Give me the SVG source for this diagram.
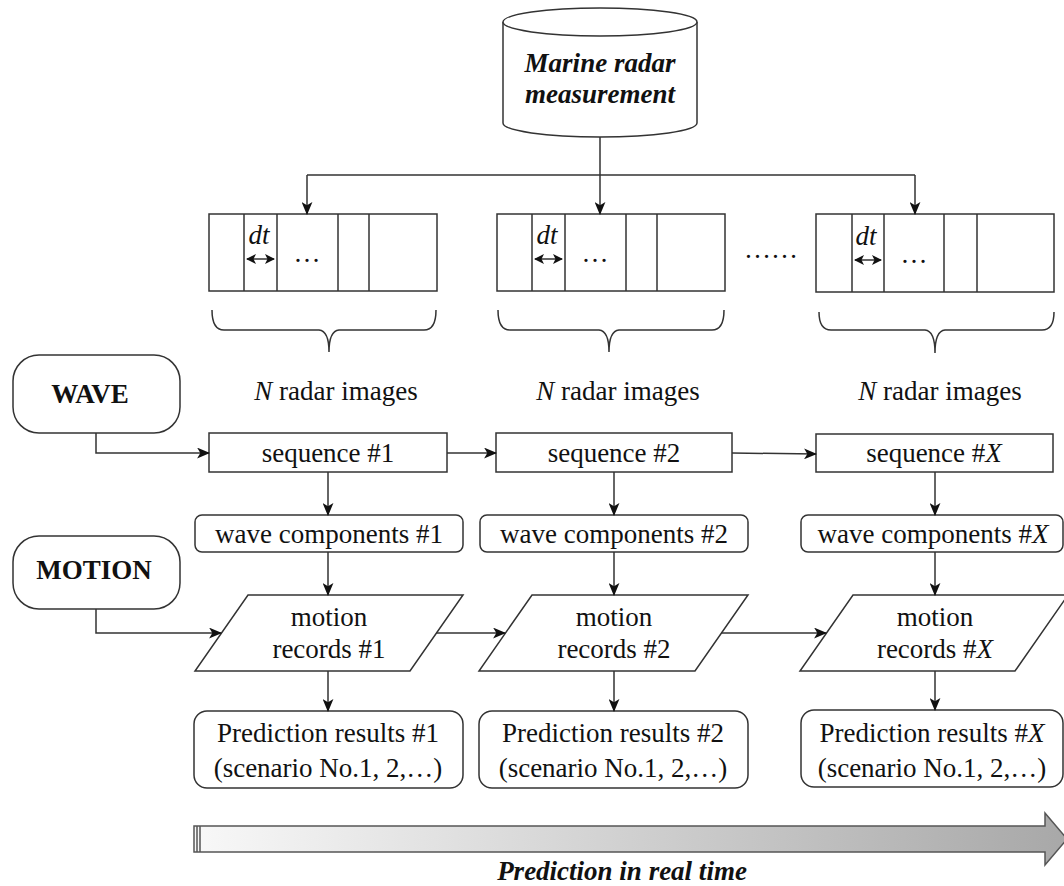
<svg xmlns="http://www.w3.org/2000/svg" width="1064" height="886" viewBox="0 0 1064 886">
<style>
.s{fill:#fff;stroke:#333;stroke-width:1.5}
.c{fill:none;stroke:#333;stroke-width:1.5}
.t{font-family:"Liberation Serif","Times New Roman",serif;font-size:27px;fill:#111;text-anchor:middle}
.b{font-weight:bold}
.i{font-style:italic}
</style>
<defs>
<marker id="ah" viewBox="0 0 12 10" refX="11" refY="5" markerWidth="13" markerHeight="11" markerUnits="userSpaceOnUse" orient="auto">
<path d="M0,0 L12,5 L0,10 L3,5 z" fill="#111"/>
</marker>
<marker id="sa" viewBox="0 0 10 10" refX="9" refY="5" markerWidth="10" markerHeight="10" markerUnits="userSpaceOnUse" orient="auto-start-reverse">
<path d="M0,0 L10,5 L0,10 L2.5,5 z" fill="#111"/>
</marker>
<linearGradient id="g" x1="0" x2="1" y1="0" y2="0">
<stop offset="0" stop-color="#f8f8f8"/>
<stop offset="1" stop-color="#a8a8a8"/>
</linearGradient>
</defs>
<rect width="1064" height="886" fill="#fff"/>

<g id="radar">
<path class="s" d="M503,22 L503,123 A97,14 0 0 0 697,123 L697,22"/>
<ellipse class="s" cx="600" cy="22" rx="97" ry="14"/>
<text class="t b i" x="600" y="72" font-size="29">Marine radar</text>
<text class="t b i" x="600" y="103" font-size="29">measurement</text>
</g>

<g id="strip1">
<rect class="s" x="209" y="214" width="228" height="77"/>
<path class="c" d="M244,214V291M277,214V291M338,214V291M369,214V291"/>
<text class="t i" x="259" y="244" font-size="25">dt</text>
<line class="c" x1="247" y1="259" x2="274" y2="259" marker-start="url(#sa)" marker-end="url(#sa)"/>
<text class="t" x="307" y="262" font-size="20">…</text>
<path class="c" d="M212,310 Q212,330 224,330 L319,330 Q329,331 329,352 Q329,331 339,330 L424,330 Q436,330 436,310"/>
<text class="t" x="336" y="400"><tspan class="i">N</tspan> radar images</text>
</g>

<g id="strip2">
<rect class="s" x="497" y="214" width="228" height="77"/>
<path class="c" d="M532,214V291M565,214V291M626,214V291M657,214V291"/>
<text class="t i" x="547" y="244" font-size="25">dt</text>
<line class="c" x1="535" y1="259" x2="562" y2="259" marker-start="url(#sa)" marker-end="url(#sa)"/>
<text class="t" x="595" y="262" font-size="20">…</text>
<path class="c" d="M498,310 Q498,330 510,330 L599,330 Q609,331 609,352 Q609,331 619,330 L712,330 Q724,330 724,310"/>
<text class="t" x="618" y="400"><tspan class="i">N</tspan> radar images</text>
</g>

<text class="t" x="771" y="258" font-size="20">……</text>

<g id="strip3">
<rect class="s" x="816" y="214" width="238" height="78"/>
<path class="c" d="M852,214V292M884,214V292M944,214V292M977,214V292"/>
<text class="t i" x="866" y="245" font-size="25">dt</text>
<line class="c" x1="855" y1="260" x2="881" y2="260" marker-start="url(#sa)" marker-end="url(#sa)"/>
<text class="t" x="914" y="263" font-size="20">…</text>
<path class="c" d="M819,312 Q819,330 831,330 L925,330 Q935,331 935,353 Q935,331 945,330 L1042,330 Q1054,330 1054,312"/>
<text class="t" x="940" y="400"><tspan class="i">N</tspan> radar images</text>
</g>

<g id="wave">
<rect class="s" x="13" y="355" width="167" height="78" rx="26"/>
<text class="t b" x="90" y="403" font-size="28">WAVE</text>
</g>
<g id="motion">
<rect class="s" x="13" y="536" width="167" height="73" rx="26"/>
<text class="t b" x="94" y="579">MOTION</text>
</g>

<g id="seq1"><rect class="s" x="209" y="433" width="238" height="39"/><text class="t" x="328" y="462">sequence #1</text></g>
<g id="seq2"><rect class="s" x="496" y="433" width="236" height="39"/><text class="t" x="614" y="462">sequence #2</text></g>
<g id="seqX"><rect class="s" x="816" y="434" width="237" height="38"/><text class="t" x="934" y="462">sequence #<tspan class="i">X</tspan></text></g>

<g id="wc1"><rect class="s" x="195" y="515" width="268" height="37" rx="7"/><text class="t" x="329" y="543">wave components #1</text></g>
<g id="wc2"><rect class="s" x="480" y="515" width="268" height="37" rx="7"/><text class="t" x="614" y="543">wave components #2</text></g>
<g id="wcX"><rect class="s" x="801" y="515" width="262" height="37" rx="7"/><text class="t" x="933" y="543">wave components #<tspan class="i">X</tspan></text></g>

<g id="mr1"><path class="s" d="M248,595 L463,595 L410,671 L195,671 z"/><text class="t" x="329" y="626">motion</text><text class="t" x="329" y="658">records #1</text></g>
<g id="mr2"><path class="s" d="M532,595 L748,595 L695,671 L479,671 z"/><text class="t" x="614" y="626">motion</text><text class="t" x="614" y="658">records #2</text></g>
<g id="mrX"><path class="s" d="M853,595 L1068,595 L1015,671 L800,671 z"/><text class="t" x="935" y="626">motion</text><text class="t" x="935" y="658">records #<tspan class="i">X</tspan></text></g>

<g id="pr1"><rect class="s" x="194" y="711" width="269" height="77" rx="13"/><text class="t" x="328" y="742">Prediction results #1</text><text class="t" x="328" y="777">(scenario No.1, 2,…)</text></g>
<g id="pr2"><rect class="s" x="479" y="711" width="269" height="77" rx="13"/><text class="t" x="613" y="742">Prediction results #2</text><text class="t" x="613" y="777">(scenario No.1, 2,…)</text></g>
<g id="prX"><rect class="s" x="801" y="710" width="262" height="77" rx="13"/><text class="t" x="932" y="742">Prediction results #<tspan class="i">X</tspan></text><text class="t" x="932" y="777">(scenario No.1, 2,…)</text></g>

<g id="connectors" class="c">
<path class="c" d="M600,137 V175 M307,175 H915"/>
<line x1="307" y1="175" x2="307" y2="214" marker-end="url(#ah)"/>
<line x1="600" y1="175" x2="600" y2="214" marker-end="url(#ah)"/>
<line x1="915" y1="175" x2="915" y2="214" marker-end="url(#ah)"/>
<path class="c" d="M96,433 V453 H209" marker-end="url(#ah)"/>
<line x1="447" y1="453" x2="496" y2="453" marker-end="url(#ah)"/>
<line x1="732" y1="453" x2="816" y2="454" marker-end="url(#ah)"/>
<line x1="328" y1="472" x2="328" y2="515" marker-end="url(#ah)"/>
<line x1="614" y1="472" x2="614" y2="515" marker-end="url(#ah)"/>
<line x1="935" y1="472" x2="935" y2="515" marker-end="url(#ah)"/>
<line x1="328" y1="552" x2="328" y2="595" marker-end="url(#ah)"/>
<line x1="614" y1="552" x2="614" y2="595" marker-end="url(#ah)"/>
<line x1="935" y1="552" x2="935" y2="595" marker-end="url(#ah)"/>
<path class="c" d="M96,609 V633 H221" marker-end="url(#ah)"/>
<line x1="436" y1="633" x2="505" y2="633" marker-end="url(#ah)"/>
<line x1="721" y1="633" x2="826" y2="633" marker-end="url(#ah)"/>
<line x1="328" y1="671" x2="328" y2="711" marker-end="url(#ah)"/>
<line x1="614" y1="671" x2="614" y2="711" marker-end="url(#ah)"/>
<line x1="935" y1="671" x2="935" y2="710" marker-end="url(#ah)"/>
</g>

<g id="timeline">
<path d="M194,826 L1045,826 L1045,813 L1067,839 L1045,865 L1045,852 L194,852 z" fill="url(#g)" stroke="#555" stroke-width="1.5"/>
<path d="M197,826V852M200,826V852" stroke="#555" stroke-width="1.5"/>
<text class="t b i" x="622" y="880">Prediction in real time</text>
</g>
</svg>
